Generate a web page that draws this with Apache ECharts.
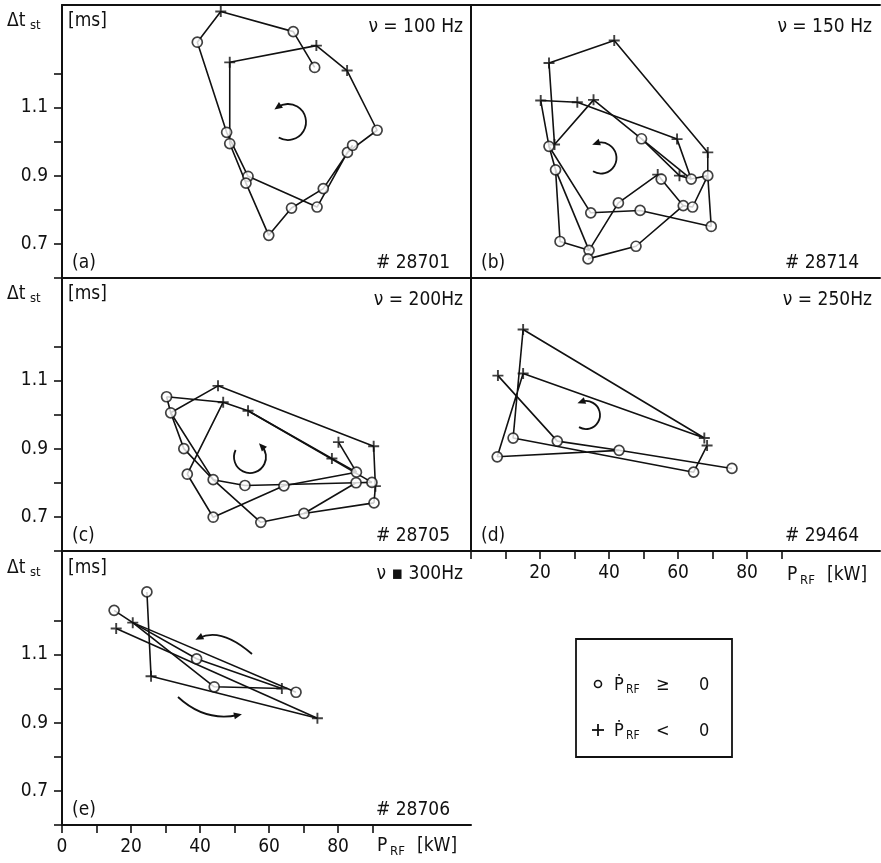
<!DOCTYPE html>
<html lang="en">
<head>
<meta charset="UTF-8">
<title>Δt_st vs P_RF</title>
<script src="https://cdn.jsdelivr.net/npm/echarts@6.0.0/dist/echarts.min.js"></script>
</head>
<body style="margin:0;background:#fff">
<div id="chart" style="width:881px;height:863px"></div>
<script>
// points: [P_RF (kW), dt_st (ms), 'o' = dP/dt >= 0, '+' = dP/dt < 0]
// paths: point indices joined in order
var ptsA = [[73.2,1.217,'o'],[67.0,1.322,'o'],[46.0,1.381,'+'],[39.2,1.291,'o'],[47.7,1.027,'o'],
    [53.9,0.898,'o'],[73.9,0.808,'o'],[82.7,0.968,'o'],[91.3,1.033,'o'],[82.6,1.208,'+'],
    [73.7,1.281,'+'],[48.6,1.232,'+'],[48.6,0.994,'o'],[53.3,0.878,'o'],[59.9,0.725,'o'],
    [66.5,0.805,'o'],[75.7,0.862,'o'],[84.2,0.989,'o']];
var pathsA = [[0,1,2,3,4,5,6,7,8,9,10,11,12,13,14,15,16,17]];

var ptsB = [[41.5,1.296,'+'],[22.6,1.230,'+'],[20.2,1.120,'+'],[30.8,1.115,'+'],[35.5,1.122,'+'],
    [22.6,0.986,'o'],[24.2,0.991,'+'],[24.5,0.917,'o'],[49.4,1.008,'o'],[59.7,1.007,'+'],
    [68.6,0.968,'+'],[54.1,0.903,'+'],[60.4,0.900,'+'],[63.8,0.890,'o'],[68.6,0.900,'o'],
    [55.1,0.890,'o'],[42.7,0.820,'o'],[34.7,0.791,'o'],[49.0,0.798,'o'],[61.5,0.812,'o'],
    [64.2,0.808,'o'],[69.6,0.751,'o'],[25.8,0.707,'o'],[34.2,0.681,'o'],[33.9,0.656,'o'],
    [47.8,0.693,'o']];
var pathsB = [[21,14,10,0,1,6,4,8,12,13,14,20,19,25,24],[8,13],[2,3,9,13],
    [2,5,7,22,23,16,11,15,19],[5,17,18,21],[7,23]];

var ptsC = [[30.3,1.052,'o'],[31.5,1.005,'o'],[45.2,1.084,'+'],[46.7,1.036,'+'],[53.9,1.011,'+'],
    [80.1,0.919,'+'],[90.3,0.907,'+'],[78.2,0.871,'+'],[35.3,0.900,'o'],[36.3,0.825,'o'],
    [43.8,0.809,'o'],[53.0,0.792,'o'],[64.3,0.791,'o'],[85.3,0.831,'o'],[85.2,0.800,'o'],
    [89.8,0.801,'o'],[90.8,0.790,'+'],[90.4,0.741,'o'],[70.1,0.710,'o'],[57.6,0.684,'o'],
    [43.8,0.699,'o']];
var pathsC = [[5,13],[0,3,4,7,13],[4,15],[1,2,6,16,17],[0,1,8,10,19,18,17],
    [1,10,11,14,15],[3,9,20,12,13],[18,14]];

var ptsD = [[15.1,1.249,'+'],[15.1,1.120,'+'],[7.8,1.114,'+'],[12.2,0.931,'o'],[7.6,0.876,'o'],
    [25.0,0.922,'o'],[42.9,0.895,'o'],[64.5,0.831,'o'],[75.6,0.842,'o'],[67.6,0.931,'+'],
    [68.4,0.909,'+']];
var pathsD = [[2,5,6,8],[6,4,1,9,0,3,7,10]];

var ptsE = [[24.6,1.283,'o'],[15.1,1.229,'o'],[20.5,1.193,'+'],[15.7,1.176,'+'],[39.0,1.087,'o'],
    [25.8,1.036,'+'],[44.1,1.005,'o'],[63.7,1.000,'+'],[67.8,0.989,'o'],[74.0,0.913,'+']];
var pathsE = [[0,5,9],[1,2,4,7],[2,8],[2,6,7],[3,9]];

var tags = ['(a)', '(b)', '(c)', '(d)', '(e)'];
var freqs = ['\u03bd = 100 Hz', '\u03bd = 150 Hz', '\u03bd = 200Hz', '\u03bd = 250Hz', '\u03bd \u25aa 300Hz'];
var shots = ['# 28701', '# 28714', '# 28705', '# 29464', '# 28706'];
var yTicks = [0.6, 0.7, 0.8, 0.9, 1.0, 1.1, 1.2];
var yLabels = [0.7, 0.9, 1.1];
var xTicks = [0, 10, 20, 30, 40, 50, 60, 70, 80, 90];
var xLabelsD = [20, 40, 60, 80];
var xLabelsE = [0, 20, 40, 60, 80];

var INK = '#111';
var FONT = '"DejaVu Sans Condensed", "DejaVu Sans", sans-serif';
var PLUS = 'path://M0,5L10,5M5,0L5,10';

var panels = [
    {pts: ptsA, paths: pathsA, left: 62, top: 5},
    {pts: ptsB, paths: pathsB, left: 471, top: 5},
    {pts: ptsC, paths: pathsC, left: 62, top: 278},
    {pts: ptsD, paths: pathsD, left: 471, top: 278},
    {pts: ptsE, paths: pathsE, left: 62, top: 552}
];
var W = 409, H = 273;

var chart = echarts.init(document.getElementById('chart'));

function txt(x, y, s, size, align) {
    return {
        type: 'text', x: x, y: y, silent: true,
        style: {
            text: s, fill: INK, fontSize: size, fontFamily: FONT,
            align: align || 'left', textAlign: align || 'left',
            verticalAlign: 'middle', textVerticalAlign: 'middle'
        }
    };
}

function head(x, y, dx, dy) {
    var n = Math.sqrt(dx * dx + dy * dy);
    dx /= n; dy /= n;
    var L = 4, w = 3.5;
    return {
        type: 'polygon', silent: true,
        shape: {points: [[x + dx * L, y + dy * L],
            [x - dx * L - dy * w, y - dy * L + dx * w],
            [x - dx * L + dy * w, y - dy * L - dx * w]]},
        style: {fill: INK}
    };
}

// turning arrows: [cx, cy, r, startDeg, endDeg], drawn anticlockwise
var arcs = [[288, 122, 18, 121, -125], [601, 158, 15.5, 121, -109],
    [250, 457, 16, 206, -43], [586, 415, 14, 120, -110]];

var graphics = [];
arcs.forEach(function (a) {
    var r1 = a[4] * Math.PI / 180;
    graphics.push({
        type: 'arc', silent: true,
        shape: {cx: a[0], cy: a[1], r: a[2], startAngle: a[3] * Math.PI / 180, endAngle: r1, clockwise: false},
        style: {stroke: INK, lineWidth: 1.8, fill: 'none'}
    });
    graphics.push(head(a[0] + a[2] * Math.cos(r1), a[1] + a[2] * Math.sin(r1), Math.sin(r1), -Math.cos(r1)));
});
// the two arrows of (e)
graphics.push({type: 'bezierCurve', silent: true,
    shape: {x1: 252, y1: 654, cpx1: 221, cpy1: 627, x2: 199, y2: 638},
    style: {stroke: INK, lineWidth: 1.8, fill: 'none'}});
graphics.push(head(199, 638, -22, 11));
graphics.push({type: 'bezierCurve', silent: true,
    shape: {x1: 178, y1: 697, cpx1: 205, cpy1: 722, x2: 238, y2: 715},
    style: {stroke: INK, lineWidth: 1.8, fill: 'none'}});
graphics.push(head(238, 715, 33, -7));

var grids = [], xAxes = [], yAxes = [], series = [];

panels.forEach(function (p, i) {
    var isLeft = p.left < 100;
    grids.push({left: p.left, top: p.top, width: W, height: H});
    var tk = i >= 3 ? xTicks : null;
    var lb = i === 3 ? xLabelsD : (i === 4 ? xLabelsE : null);
    xAxes.push({
        type: 'value', gridIndex: i, min: 0, max: 118.5, interval: 10, position: 'bottom',
        axisLine: {show: true, onZero: false, lineStyle: {color: INK, width: 2}},
        axisTick: {show: !!tk, length: 8, customValues: tk || undefined, lineStyle: {color: INK, width: 1.6}},
        axisLabel: {show: !!lb, customValues: lb || undefined, margin: 13, color: INK, fontSize: 19, fontFamily: FONT},
        splitLine: {show: false}
    });
    yAxes.push({
        type: 'value', gridIndex: i, min: 0.6, max: 1.4, interval: 0.1,
        axisLine: {show: true, onZero: false, lineStyle: {color: INK, width: 2}},
        axisTick: {show: isLeft, length: 8, customValues: yTicks, lineStyle: {color: INK, width: 1.6}},
        axisLabel: {show: isLeft, customValues: yLabels, margin: 14, color: INK, fontSize: 19, fontFamily: FONT,
            formatter: function (v) { return v.toFixed(1); }},
        splitLine: {show: false}
    });

    p.paths.forEach(function (path) {
        series.push({
            type: 'line', xAxisIndex: i, yAxisIndex: i, silent: true, showSymbol: false, z: 2,
            lineStyle: {color: INK, width: 1.6},
            data: path.map(function (k) { return [p.pts[k][0], p.pts[k][1]]; })
        });
    });
    series.push({
        type: 'scatter', xAxisIndex: i, yAxisIndex: i, silent: true, z: 3,
        symbol: PLUS, symbolSize: 11,
        itemStyle: {color: INK, borderColor: INK, borderWidth: 1.9},
        data: p.pts.filter(function (q) { return q[2] === '+'; }).map(function (q) { return [q[0], q[1]]; })
    });
    series.push({
        type: 'scatter', xAxisIndex: i, yAxisIndex: i, silent: true, z: 4,
        symbol: 'circle', symbolSize: 10,
        itemStyle: {color: '#fff', borderColor: INK, borderWidth: 1.7},
        data: p.pts.filter(function (q) { return q[2] === 'o'; }).map(function (q) { return [q[0], q[1]]; })
    });

    // panel texts
    graphics.push(txt(p.left + 10, p.top + 258, tags[i], 19));
    graphics.push(txt(p.left + 388, p.top + 258, shots[i], 19, 'right'));
    graphics.push(txt(p.left + 401, p.top + 22, freqs[i], 19, 'right'));
    if (isLeft) {
        graphics.push(txt(7, p.top + 16, '\u0394t', 19));
        graphics.push(txt(30, p.top + 21, 'st', 13));
        graphics.push(txt(68, p.top + 16, '[ms]', 19));
    }
});

// frame along the top of (a) and (b)
[0, 1].forEach(function (i) {
    xAxes.push({
        type: 'value', gridIndex: i, min: 0, max: 118.5, position: 'top',
        axisLine: {show: true, onZero: false, lineStyle: {color: INK, width: 2}},
        axisTick: {show: false}, axisLabel: {show: false}, splitLine: {show: false}
    });
});

// x-axis titles
[[787, 575], [377, 846]].forEach(function (q) {
    graphics.push(txt(q[0], q[1], 'P', 19));
    graphics.push(txt(q[0] + 13, q[1] + 6, 'RF', 13));
    graphics.push(txt(q[0] + 40, q[1], '[kW]', 19));
});

// legend box
graphics.push({type: 'rect', silent: true, shape: {x: 576, y: 639, width: 156, height: 118},
    style: {fill: '#fff', stroke: INK, lineWidth: 1.8}});
graphics.push({type: 'circle', silent: true, shape: {cx: 598, cy: 684, r: 3.5},
    style: {fill: '#fff', stroke: INK, lineWidth: 1.6}});
graphics.push({type: 'polyline', silent: true, shape: {points: [[592, 730], [604, 730]]},
    style: {stroke: INK, lineWidth: 1.8}});
graphics.push({type: 'polyline', silent: true, shape: {points: [[598, 724], [598, 736]]},
    style: {stroke: INK, lineWidth: 1.8}});
[[685, '\u2265'], [731, '<']].forEach(function (r) {
    graphics.push(txt(614, r[0], '\u1e56', 18));
    graphics.push(txt(626, r[0] + 5, 'RF', 12));
    graphics.push(txt(656, r[0], r[1], 18));
    graphics.push(txt(699, r[0], '0', 18));
});

chart.setOption({
    animation: false,
    backgroundColor: '#fff',
    grid: grids,
    xAxis: xAxes,
    yAxis: yAxes,
    series: series,
    graphic: {elements: graphics}
});
</script>
</body>
</html>
